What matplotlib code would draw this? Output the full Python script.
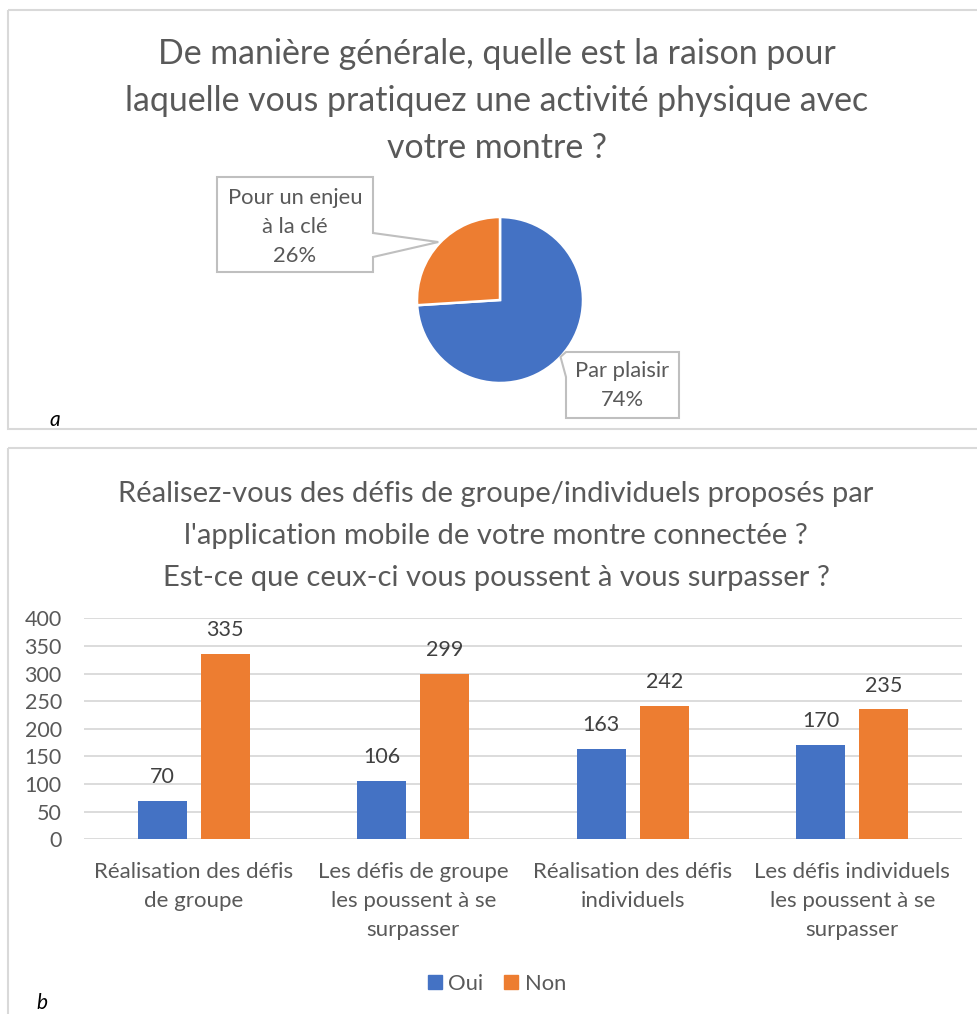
import matplotlib
matplotlib.use("Agg")
import matplotlib.pyplot as plt
from matplotlib.patches import Polygon, Rectangle
from matplotlib.lines import Line2D
import numpy as np

# ---------------- data ----------------
pie_labels = ["Par plaisir", "Pour un enjeu\nà la clé"]
pie_values = [74, 26]

categories = [
    "Réalisation des défis\nde groupe",
    "Les défis de groupe\nles poussent à se\nsurpasser",
    "Réalisation des défis\nindividuels",
    "Les défis individuels\nles poussent à se\nsurpasser",
]
oui = [70, 106, 163, 170]
non = [335, 299, 242, 235]
series_names = ["Oui", "Non"]
yticks = [0, 50, 100, 150, 200, 250, 300, 350, 400]

title_a = "De manière générale, quelle est la raison pour\nlaquelle vous pratiquez une activité physique avec\nvotre montre ?"
title_b = ("Réalisez-vous des défis de groupe/individuels proposés par\n"
           "l'application mobile de votre montre connectée ?\n"
           "Est-ce que ceux-ci vous poussent à vous surpasser ?")

BLUE = "#4472C4"
ORANGE = "#ED7D31"
GRAY = "#595959"
BORDER = "#D9D9D9"

plt.rcParams['font.family'] = ['Lato', 'DejaVu Sans']

W, H = 978, 1014
fig = plt.figure(figsize=(W / 100, H / 100), dpi=100)


def ax_px(l, t, r, b, **kw):
    return fig.add_axes([l / W, 1 - b / H, (r - l) / W, (b - t) / H], **kw)


# overlay in pixel coordinates
ov = ax_px(0, 0, W, H, zorder=5)
ov.set_xlim(0, W)
ov.set_ylim(H, 0)
ov.axis('off')
ov.patch.set_alpha(0)

# panel borders
ov.add_patch(Rectangle((7.5, 9.5), 990, 419.5, fill=False, ec=BORDER, lw=1.5))
ov.add_patch(Rectangle((7.5, 448), 990, 600, fill=False, ec=BORDER, lw=1.5))

# ---------------- panel a : pie ----------------
fig.text(497 / W, 1 - 101 / H, title_a, ha='center', va='center',
         fontsize=24.4, color=GRAY, linespacing=1.57)

ax_pie = ax_px(417, 217, 583, 383)
wedges, _ = ax_pie.pie(pie_values, colors=[BLUE, ORANGE], startangle=90,
                       counterclock=False, radius=1,
                       wedgeprops=dict(edgecolor='white', linewidth=1.8))
ax_pie.set_xlim(-1, 1)
ax_pie.set_ylim(-1, 1)
ax_pie.set_aspect('equal')


def tip_of(w, r=1.0):
    mid = np.deg2rad((w.theta1 + w.theta2) / 2)
    disp = ax_pie.transData.transform((r * np.cos(mid), r * np.sin(mid)))
    return ov.transData.inverted().transform(disp)


# callout for orange wedge
tx, ty = tip_of(wedges[1], 1.02)
poly = [(217, 177), (373, 177), (373, 233), (tx, ty), (373, 257), (373, 272), (217, 272)]
ov.add_patch(Polygon(poly, closed=True, fc='white', ec='#BFBFBF', lw=1.5))
ov.text(295, 227, f"{pie_labels[1]}\n{pie_values[1]}%", ha='center', va='center',
        fontsize=15.8, color=GRAY, linespacing=1.55)

# callout for blue wedge
tx, ty = tip_of(wedges[0], 1.0)
poly = [(566, 352), (679, 352), (679, 418), (566, 418), (566, 377), (tx, ty)]
ov.add_patch(Polygon(poly, closed=True, fc='white', ec='#BFBFBF', lw=1.5))
ov.text(622, 385.5, f"{pie_labels[0]}\n{pie_values[0]}%", ha='center', va='center',
        fontsize=15.8, color=GRAY, linespacing=1.55)

ov.text(55, 420, "a", ha='center', va='center', fontsize=15, style='italic', color='black')

# ---------------- panel b : bars ----------------
fig.text(496 / W, 1 - 536 / H, title_b, ha='center', va='center',
         fontsize=21, color=GRAY, linespacing=1.74)

ax = ax_px(84, 618.3, 962, 839.3)
x = np.arange(len(categories))
bw, off = 0.223, 0.143
b1 = ax.bar(x - off, oui, bw, color=BLUE, zorder=3, label=series_names[0])
b2 = ax.bar(x + off, non, bw, color=ORANGE, zorder=3, label=series_names[1])
ax.set_xlim(-0.5, len(categories) - 0.5)
ax.set_ylim(0, 400)
ax.set_yticks(yticks)
ax.yaxis.grid(True, color=BORDER, lw=1.3, zorder=0)
ax.set_axisbelow(True)
for s in ax.spines.values():
    s.set_visible(False)
ax.tick_params(axis='y', length=0, pad=16, labelsize=15.5, labelcolor=GRAY)
ax.set_xticks(x)
ax.set_xticklabels(categories, linespacing=1.57)
ax.tick_params(axis='x', length=0, pad=16.5, labelsize=16, labelcolor=GRAY)
ax.patch.set_alpha(0)
for bars in (b1, b2):
    ax.bar_label(bars, padding=10, fontsize=15.5, color='#404040')

handles = [Line2D([], [], marker='s', ls='none', color=BLUE, markersize=10),
           Line2D([], [], marker='s', ls='none', color=ORANGE, markersize=10)]
fig.legend(handles, series_names, loc='center', bbox_to_anchor=(497 / W, 1 - 984 / H),
           ncol=2, frameon=False, fontsize=15.8, labelcolor=GRAY,
           handlelength=0.6, handletextpad=0.3, columnspacing=1.0)

ov.text(42, 1003, "b", ha='center', va='center', fontsize=15, style='italic', color='black')

fig.savefig("out.png", dpi=100)
